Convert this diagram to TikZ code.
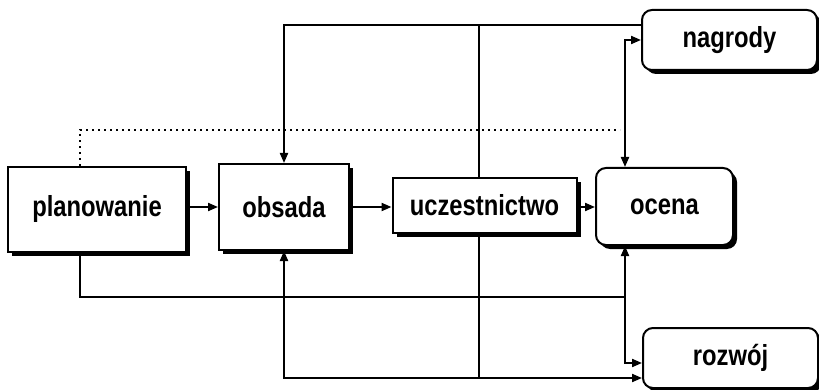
\documentclass[tikz,border=0pt]{standalone}
\usepackage{fontspec}
\setmainfont{Liberation Sans}
\usetikzlibrary{arrows.meta,shadows,calc}
\newcommand{\sqz}[1]{\scalebox{0.82}[1]{\bfseries #1}}
\begin{document}
\begin{tikzpicture}[x=1pt,y=-1pt,
  box/.style={draw=black,line width=2pt,fill=white,inner sep=0pt,
    font=\fontsize{29}{34}\selectfont,
    drop shadow={shadow xshift=4pt,shadow yshift=-4pt,fill=black,opacity=1}},
  rbox/.style={box,rounded corners=10pt},
  conn/.style={line width=2pt},
  tip/.style={-{Triangle[length=10pt,width=8pt]}},
  tips/.style={{Triangle[length=10pt,width=8pt]}-{Triangle[length=10pt,width=8pt]}}]
\useasboundingbox (0,0) rectangle (819,390);
\fill[white] (0,0) rectangle (819,390);
\node[box,minimum width=178pt,minimum height=85pt] (plan) at (97,209.5) {\sqz{planowanie}};
\node[box,minimum width=130pt,minimum height=86pt] (obs) at (284,207) {\sqz{obsada}};
\node[box,minimum width=184pt,minimum height=54pt] (ucz) at (484.5,205.5) {\sqz{uczestnictwo}};
\node[rbox,minimum width=137pt,minimum height=77pt] (oc) at (664.5,206.5) {\sqz{ocena}};
\node[rbox,minimum width=175pt,minimum height=60pt] (nag) at (729.5,40) {\sqz{nagrody}};
\node[rbox,minimum width=175pt,minimum height=60pt] (roz) at (730.5,358) {\sqz{rozwój}};
\coordinate (tj) at (479,25);
\coordinate (bj) at (479,378);
\coordinate (vx) at (625,0);
\coordinate (dotend) at (620,130);
\coordinate (pb) at (625,297);
% horizontal chain
\draw[conn,tip] (plan.east |- obs.west) -- (obs.west);
\draw[conn,tip] (obs.east) -- (ucz.west |- obs.east);
\draw[conn,tip] (ucz.east |- obs.east) -- (oc.west |- obs.east);
% top line
\draw[conn,tip] (nag.west |- tj) -| (obs.north);
\draw[conn] (tj) -- (tj |- ucz.north);
% dotted
\draw[line width=2pt,dash pattern=on 2pt off 4pt] ([xshift=-17pt]plan.north) |- (dotend);
% nagrody <-> ocena
\draw[conn,tips] (oc.north -| vx) |- (nag.west);
% planowanie bottom line
\draw[conn] ([xshift=-17pt]plan.south) |- (pb);
% ocena <-> rozwoj
\draw[conn,tips] (oc.south -| vx) |- ([yshift=-5pt]roz.west);
% bottom line
\draw[conn,tips] (obs.south) |- (roz.west |- bj);
\draw[conn] (ucz.south -| bj) -- (bj);
\end{tikzpicture}
\end{document}
